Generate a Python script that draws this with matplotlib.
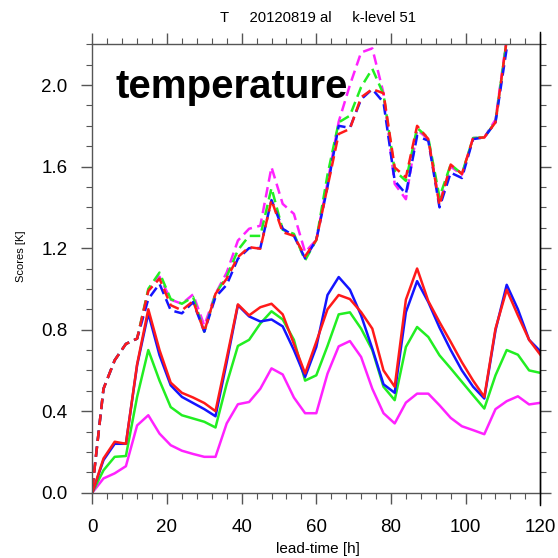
import numpy as np
import matplotlib
matplotlib.use("Agg")
import matplotlib.pyplot as plt
from matplotlib.lines import Line2D
from matplotlib.ticker import MultipleLocator

plt.rcParams["font.family"] = ["Liberation Sans", "DejaVu Sans"]

# lead time every 3 h
lead = np.arange(0, 121, 3)

# solid curves
solid_blue = [0, .16, .24, .24, .625, .88, .675, .527, .47, .44,
              .41, .375, .64, .92, .865, .84, .85, .816, .70, .568,
              .715, .97, 1.058, .996, .87, .707, .532, .49, .886, 1.038,
              .935, .81, .70, .60, .52, .462, .797, 1.02, .90, .75, .694]
solid_red = [0, .168, .25, .24, .63, .90, .70, .54, .49, .467,
             .44, .40, .66, .924, .87, .91, .927, .875, .73, .585,
             .74, .90, .97, .95, .886, .805, .60, .52, .947, 1.10,
             .94, .837, .74, .64, .55, .47, .805, .996, .87, .75, .677]
solid_green = [0, .11, .176, .18, .47, .70, .55, .42, .38, .364,
               .348, .32, .535, .72, .75, .83, .89, .85, .75, .55,
               .576, .72, .875, .885, .805, .70, .52, .454, .715, .813,
               .764, .674, .61, .544, .478, .413, .576, .70, .677, .60, .588]
solid_magenta = [0, .07, .095, .13, .33, .38, .29, .233, .206, .19,
                 .176, .176, .34, .434, .445, .51, .61, .58, .467, .39,
                 .39, .584, .718, .744, .666, .51, .39, .34, .442, .486,
                 .486, .429, .367, .326, .307, .287, .41, .449, .473, .433, .441]

# dashed curves
dash_blue = [.02, .51, .65, .73, .756, .95, 1.025, .895, .88, .935,
             .79, .96, 1.02, 1.148, 1.20, 1.20, 1.436, 1.295, 1.26, 1.15,
             1.24, 1.50, 1.80, 1.79, 1.93, 1.98, 1.915, 1.53, 1.466, 1.75,
             1.727, 1.40, 1.57, 1.544, 1.735, 1.743, 1.817, 2.18, 2.5, 2.7, 2.9]
dash_red = [.02, .51, .65, .73, .756, .99, 1.05, .92, .895, .94,
            .79, .976, 1.05, 1.156, 1.205, 1.197, 1.436, 1.278, 1.26, 1.16,
            1.24, 1.50, 1.76, 1.785, 1.94, 1.98, 1.96, 1.596, 1.547, 1.80,
            1.735, 1.41, 1.61, 1.564, 1.74, 1.743, 1.817, 2.22, 2.5, 2.7, 2.9]
dash_green = [.02, .51, .65, .73, .756, 1.0, 1.08, .95, .927, .96,
              .79, .976, 1.06, 1.19, 1.26, 1.26, 1.495, 1.29, 1.27, 1.14,
              1.24, 1.56, 1.817, 1.85, 1.99, 2.08, 1.955, 1.58, 1.53, 1.79,
              1.74, 1.45, 1.61, 1.564, 1.74, 1.743, 1.82, 2.22, 2.5, 2.7, 2.9]
dash_magenta = [.02, .51, .65, .73, .756, .99, 1.06, .947, .927, .973,
                .82, .976, 1.08, 1.237, 1.295, 1.31, 1.597, 1.417, 1.368, 1.18,
                1.24, 1.52, 1.82, 2.0, 2.16, 2.18, 1.96, 1.515, 1.44, 1.78,
                1.735, 1.42, 1.60, 1.56, 1.74, 1.743, 1.83, 2.23, 2.5, 2.7, 2.9]

C_BLUE = "#1414ff"
C_RED = "#ff1a1a"
C_GREEN = "#22ee22"
C_MAG = "#ff22ff"

W = 558.0
fig = plt.figure(figsize=(5.58, 5.58), dpi=100, facecolor="white")
ax = fig.add_axes([92.3 / W, (W - 492.7) / W, 448 / W, 448.4 / W])

lw = 1.8
for y, c in [(dash_magenta, C_MAG), (dash_green, C_GREEN), (dash_blue, C_BLUE), (dash_red, C_RED)]:
    ax.plot(lead, y, color=c, lw=lw, dashes=(4.2, 2.2))
for y, c in [(solid_magenta, C_MAG), (solid_green, C_GREEN), (solid_blue, C_BLUE), (solid_red, C_RED)]:
    ax.plot(lead, y, color=c, lw=lw)

ax.set_xlim(0, 120)
ax.set_ylim(0, 2.2)
ax.xaxis.set_major_locator(MultipleLocator(20))
ax.xaxis.set_minor_locator(MultipleLocator(4))
ax.yaxis.set_major_locator(MultipleLocator(0.4))
ax.yaxis.set_minor_locator(MultipleLocator(0.1))
ax.yaxis.set_major_formatter(matplotlib.ticker.FormatStrFormatter("%.1f"))

for s in ["left", "bottom", "top"]:
    ax.spines[s].set_color("#555555")
    ax.spines[s].set_linewidth(1.0)
ax.spines["right"].set_color("black")
ax.spines["right"].set_linewidth(1.0)

ax.tick_params(which="both", direction="out", top=True, right=True,
               color="#555555", labelsize=13.5)
ax.tick_params(which="major", length=8, width=1.0)
ax.tick_params(which="minor", length=4.5, width=0.8)
ax.tick_params(axis="x", pad=11)
ax.tick_params(axis="y", pad=10)

# right edge line running past the frame
fig.add_artist(Line2D([540.3 / W, 540.3 / W], [1 - 32 / W, 1 - 505 / W], color="black", lw=1.0))

ax.text(115 / W, 1 - 98 / W, "temperature", transform=fig.transFigure,
        fontsize=29, fontweight="bold", va="baseline", ha="left")

fig.text(318 / W, 1 - 22 / W, "T     20120819 al     k-level 51", fontsize=10.7,
         ha="center", va="baseline")
fig.text(318 / W, 1 - 553 / W, "lead-time [h]", fontsize=11, ha="center", va="baseline")
fig.text(21 / W, 1 - 256 / W, "Scores [K]", fontsize=8, rotation=90, ha="center", va="center")

fig.savefig("out.png", dpi=100, facecolor="white")
